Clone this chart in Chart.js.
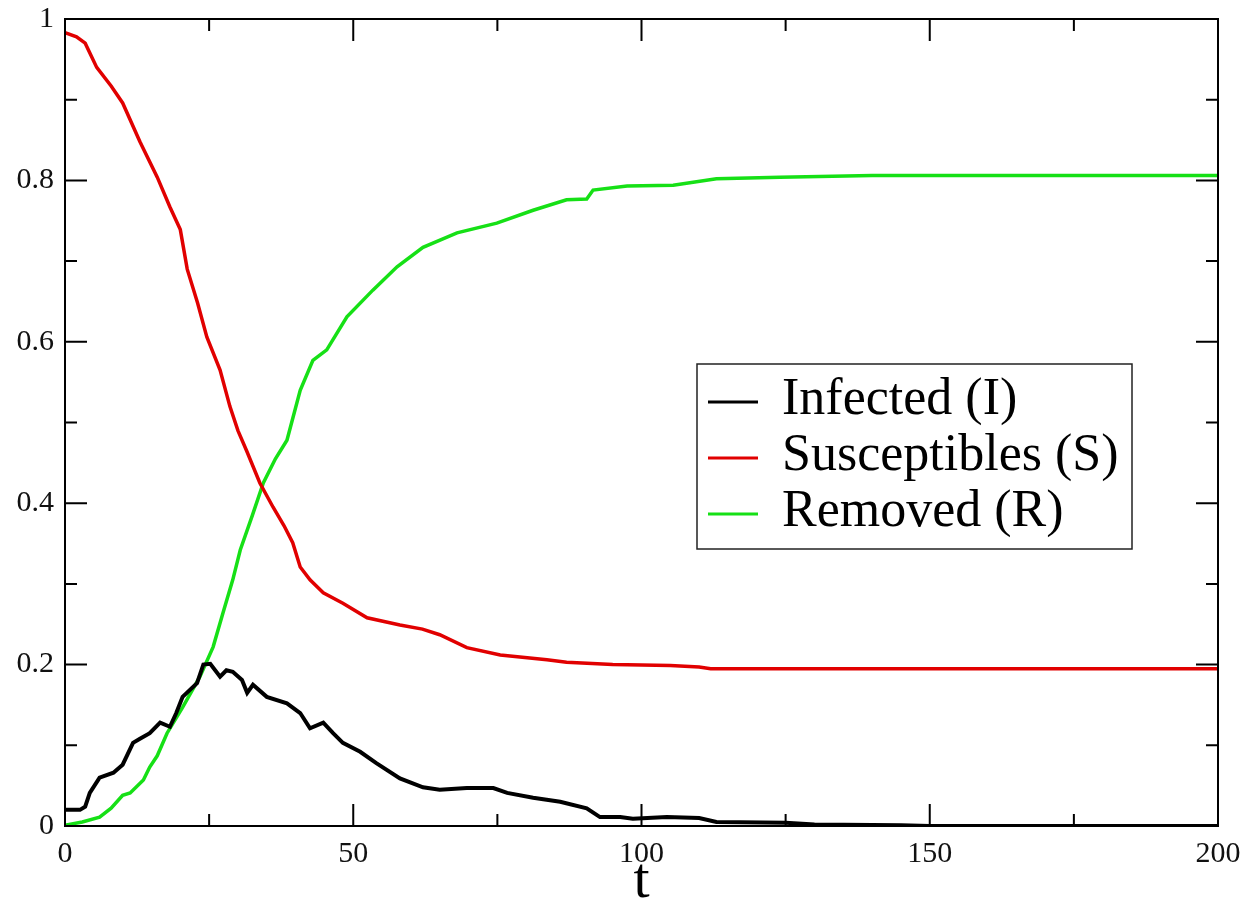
<!DOCTYPE html>
<html>
<head>
<meta charset="utf-8">
<script src="https://cdn.jsdelivr.net/npm/chart.js@4/dist/chart.umd.min.js"></script>
<style>
  body { margin: 0; background: #fff; }
  canvas { display: block; }
</style>
</head>
<body>
<canvas id="sirChart" width="1247" height="914"></canvas>
<script>
// Infected (I)
var tI = [0, 2.6, 3.5, 4.3, 6, 8.4, 10, 11.8, 13, 14.7, 16.5, 18.2, 19.3, 20.4, 22.9, 24, 25.2, 26.9, 28, 29.1, 30.7, 31.6, 32.6, 35, 38.5, 40.8, 42.5, 44.8, 46.5, 48.2, 51.2, 54, 58.1, 62.1, 65, 69.7, 74.3, 76.7, 81.2, 85.9, 90.5, 92.8, 96.3, 98.5, 104.4, 110, 113, 125, 130, 145, 150, 200];
var vI = [0.020, 0.020, 0.024, 0.041, 0.060, 0.066, 0.076, 0.103, 0.108, 0.115, 0.128, 0.123, 0.140, 0.160, 0.177, 0.200, 0.201, 0.185, 0.193, 0.191, 0.181, 0.165, 0.175, 0.160, 0.152, 0.140, 0.121, 0.128, 0.115, 0.103, 0.092, 0.078, 0.059, 0.048, 0.045, 0.047, 0.047, 0.041, 0.035, 0.030, 0.022, 0.011, 0.011, 0.009, 0.011, 0.010, 0.005, 0.004, 0.002, 0.001, 0, 0];

// Susceptibles (S)
var tS = [0, 2, 3.5, 5.5, 8, 10, 13, 16, 18.2, 20, 21.2, 23, 24.6, 26.9, 28.6, 30, 31.5, 33.8, 36.1, 38, 39.5, 40.8, 42.5, 44.8, 48.2, 52.4, 58.1, 62, 65, 69.7, 75.5, 83.6, 87, 95, 105, 110, 112, 200];
var vS = [0.983, 0.978, 0.970, 0.940, 0.917, 0.896, 0.848, 0.804, 0.767, 0.739, 0.690, 0.648, 0.606, 0.565, 0.520, 0.490, 0.465, 0.425, 0.395, 0.372, 0.351, 0.321, 0.305, 0.289, 0.276, 0.258, 0.249, 0.244, 0.237, 0.221, 0.212, 0.206, 0.203, 0.200, 0.199, 0.197, 0.195, 0.195];

// Removed (R)
var tR = [0, 3, 6, 8, 10, 11.3, 13.6, 14.7, 16, 17.7, 20.4, 23.4, 25.7, 27.4, 29.1, 30.4, 32.5, 34.4, 36.5, 38.5, 40.8, 43, 45.4, 48.9, 53.4, 57.6, 62.1, 68, 74.9, 81.2, 87, 90.5, 91.6, 97.5, 105.5, 113, 124, 140, 200];
var vR = [0.001, 0.005, 0.011, 0.022, 0.038, 0.041, 0.057, 0.073, 0.087, 0.115, 0.147, 0.185, 0.222, 0.264, 0.305, 0.342, 0.385, 0.425, 0.455, 0.478, 0.540, 0.577, 0.590, 0.631, 0.664, 0.693, 0.717, 0.735, 0.747, 0.763, 0.776, 0.777, 0.788, 0.793, 0.794, 0.802, 0.804, 0.806, 0.806];

var seriesLabels = ['Infected (I)', 'Susceptibles (S)', 'Removed (R)'];
var seriesColors = ['#000000', '#e10000', '#16e016'];

var xTicks = [0, 50, 100, 150, 200];
var yTicks = [0, 0.2, 0.4, 0.6, 0.8, 1];

function toPoints(ts, vs) {
  var pts = [];
  for (var i = 0; i < ts.length; i++) pts.push({x: ts[i], y: vs[i]});
  return pts;
}

var serif = '"Liberation Serif", "DejaVu Serif", serif';

// frame, inward ticks on every side, and the legend box
var framePlugin = {
  id: 'frame',
  afterDraw: function(chart) {
    var ctx = chart.ctx;
    var a = chart.chartArea;
    var xs = chart.scales.x, ys = chart.scales.y;
    ctx.save();
    ctx.strokeStyle = '#000';
    ctx.lineWidth = 2;
    ctx.strokeRect(a.left, a.top, a.right - a.left, a.bottom - a.top);

    ctx.beginPath();
    for (var v = 0; v <= 200; v += 25) {
      var px = xs.getPixelForValue(v);
      var len = (v % 50 === 0) ? 22 : 12;
      ctx.moveTo(px, a.bottom); ctx.lineTo(px, a.bottom - len);
      ctx.moveTo(px, a.top); ctx.lineTo(px, a.top + len);
    }
    for (var k = 0; k <= 10; k++) {
      var py = ys.getPixelForValue(k / 10);
      var ylen = (k % 2 === 0) ? 22 : 12;
      ctx.moveTo(a.left, py); ctx.lineTo(a.left + ylen, py);
      ctx.moveTo(a.right, py); ctx.lineTo(a.right - ylen, py);
    }
    ctx.stroke();

    // legend
    var bx = 697, by = 364, bw = 435, bh = 185;
    ctx.fillStyle = '#fff';
    ctx.fillRect(bx, by, bw, bh);
    ctx.lineWidth = 1.5;
    ctx.strokeStyle = '#222';
    ctx.strokeRect(bx, by, bw, bh);
    ctx.font = '52px ' + serif;
    ctx.textBaseline = 'middle';
    ctx.textAlign = 'left';
    chart.data.datasets.forEach(function(ds, i) {
      var ly = 402 + i * 56;
      ctx.strokeStyle = ds.borderColor;
      ctx.lineWidth = 3;
      ctx.beginPath();
      ctx.moveTo(708, ly); ctx.lineTo(758, ly);
      ctx.stroke();
      ctx.fillStyle = '#000';
      ctx.fillText(ds.label, 782, ly - 2);
    });
    ctx.restore();
  }
};

function yLabel(v) {
  if (v === 0) return '0';
  if (v === 1) return '1';
  return v.toFixed(1);
}

var ctx = document.getElementById('sirChart');
var sirChart = new Chart(ctx, {
  type: 'line',
  data: {
    datasets: [
      { label: seriesLabels[0], data: toPoints(tI, vI), borderColor: seriesColors[0], borderWidth: 4 },
      { label: seriesLabels[1], data: toPoints(tS, vS), borderColor: seriesColors[1], borderWidth: 3.5 },
      { label: seriesLabels[2], data: toPoints(tR, vR), borderColor: seriesColors[2], borderWidth: 3.5 }
    ]
  },
  options: {
    responsive: false,
    animation: false,
    devicePixelRatio: 1,
    layout: { padding: { top: 19, right: 29, left: 0, bottom: 0 } },
    elements: { point: { radius: 0 }, line: { tension: 0 } },
    plugins: { legend: { display: false }, tooltip: { enabled: false } },
    scales: {
      x: {
        type: 'linear',
        min: 0, max: 200,
        afterBuildTicks: function(s) { s.ticks = xTicks.map(function(v) { return {value: v}; }); },
        afterFit: function(s) { s.height = 88; s.paddingLeft = 0; s.paddingRight = 0; },
        grid: { display: false, drawTicks: false },
        border: { display: false },
        ticks: { font: { family: serif, size: 30 }, color: '#111', padding: 10, maxRotation: 0 },
        title: { display: true, text: 't', font: { family: serif, size: 58, lineHeight: 1 }, color: '#000', padding: { top: 0, bottom: 3 } }
      },
      y: {
        min: 0, max: 1,
        afterBuildTicks: function(s) { s.ticks = yTicks.map(function(v) { return {value: v}; }); },
        afterFit: function(s) { s.width = 65; s.paddingTop = 0; s.paddingBottom = 0; },
        grid: { display: false, drawTicks: false },
        border: { display: false },
        ticks: { font: { family: serif, size: 30 }, color: '#111', padding: 11, callback: yLabel }
      }
    }
  },
  plugins: [framePlugin]
});
</script>
</body>
</html>
